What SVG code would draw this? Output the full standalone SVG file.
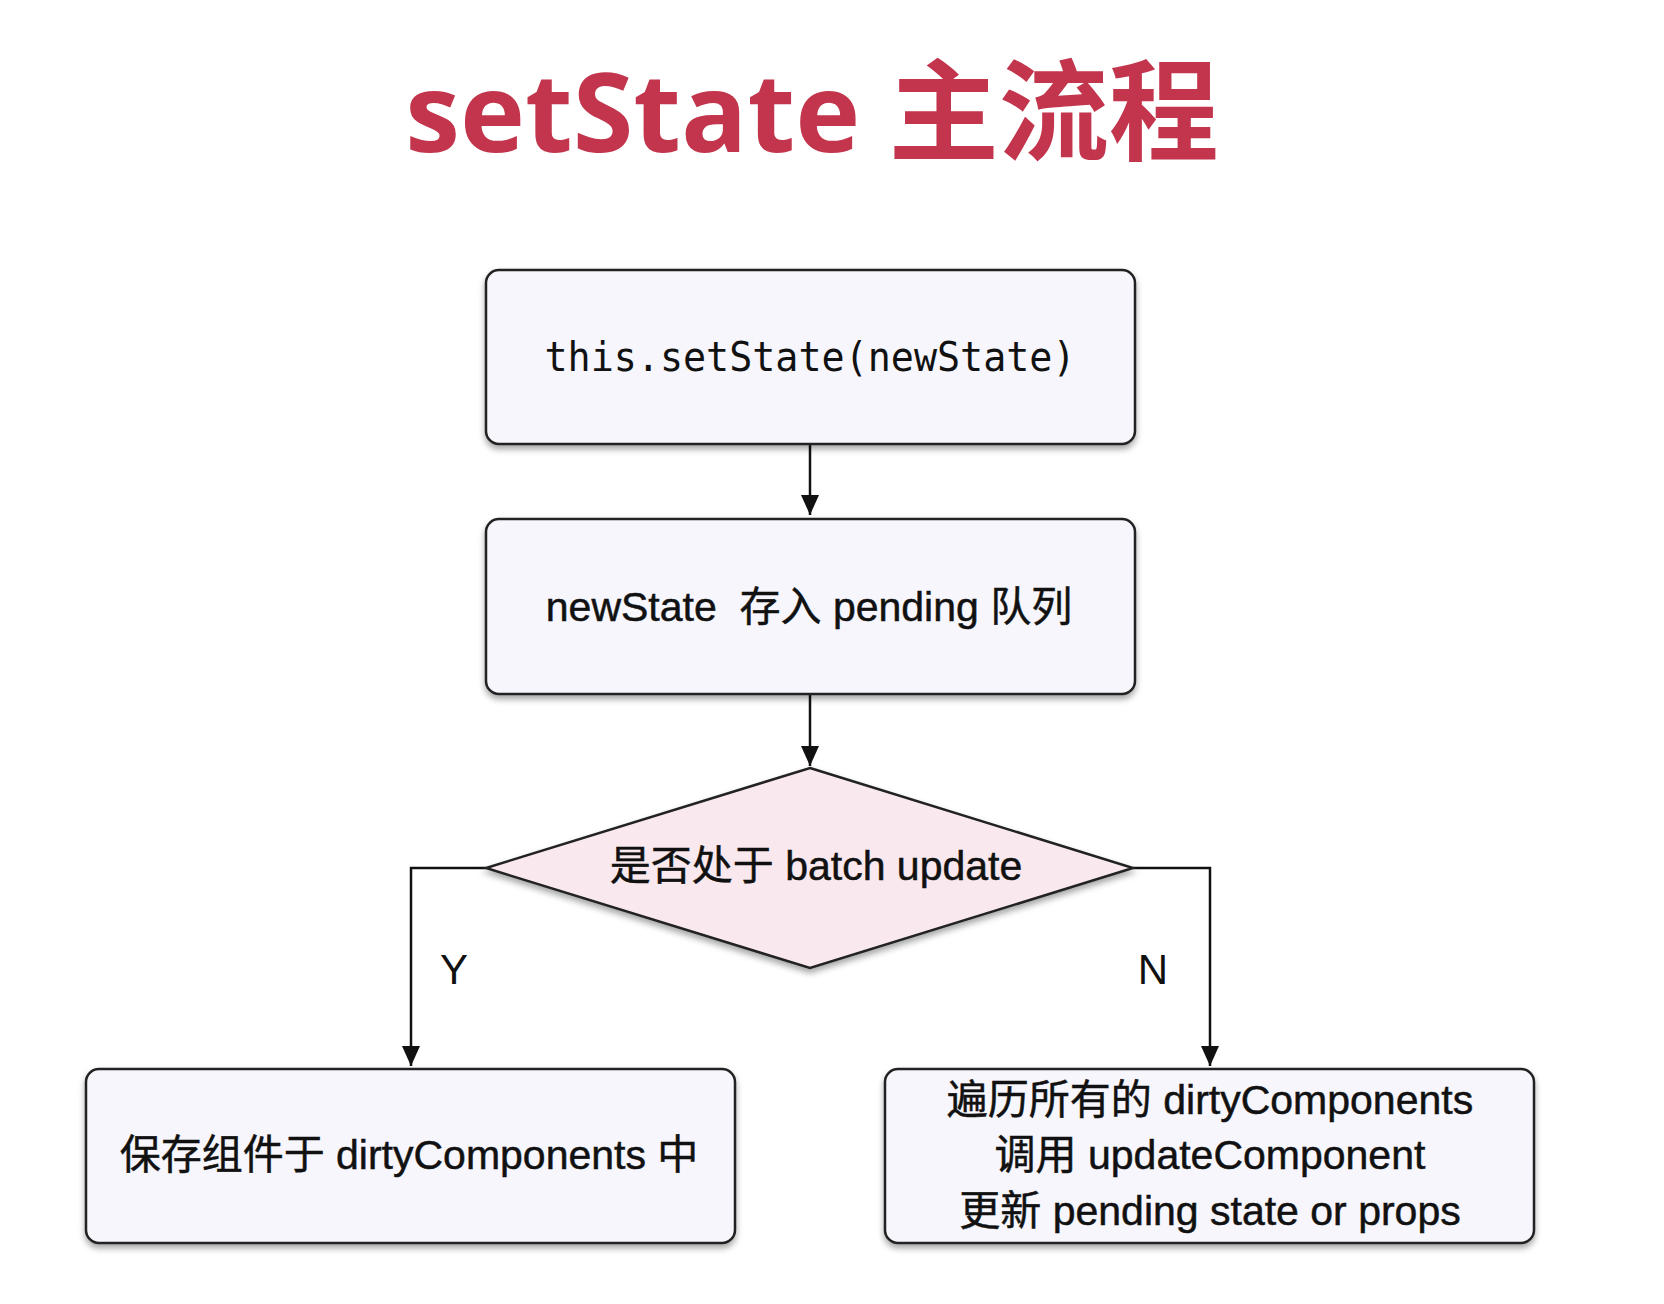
<svg xmlns="http://www.w3.org/2000/svg" width="1664" height="1304" viewBox="0 0 1664 1304">
<defs>
<filter id="sh" x="-5%" y="-10%" width="110%" height="125%">
<feDropShadow dx="0" dy="4" stdDeviation="3" flood-color="#000" flood-opacity="0.35"/>
</filter>
<marker id="arrb" viewBox="0 0 20 22" refX="20" refY="11" markerWidth="20" markerHeight="22" markerUnits="userSpaceOnUse" orient="auto">
<path d="M0,2 L20,11 L0,20 z" fill="#111"/>
</marker>
</defs>
<style>
.box{fill:#F6F6FC;stroke:#222;stroke-width:2.5;filter:url(#sh)}
.dia{fill:#F9E9EE;stroke:#222;stroke-width:2.5;filter:url(#sh)}
.t{font-family:"Liberation Sans","Noto Sans CJK SC",sans-serif;font-size:41px;fill:#111;stroke:#111;stroke-width:0.5;text-anchor:middle;dominant-baseline:central}
.mono{font-family:"DejaVu Sans Mono","Liberation Mono",monospace;font-size:40px;fill:#111;text-anchor:middle;dominant-baseline:central}
.lbl{font-family:"Liberation Sans",sans-serif;font-size:42px;fill:#111;text-anchor:middle;dominant-baseline:central}
.edge{fill:none;stroke:#111;stroke-width:2.5}
.title{font-family:"Open Sans","Noto Sans CJK SC",sans-serif;font-weight:bold;font-size:110px;fill:#C2354C;text-anchor:middle}
</style>
<rect width="1664" height="1304" fill="#FFFFFF"/>
<text class="title" x="812" y="152">setState <tspan font-family="Noto Sans CJK SC" font-weight="bold">主流程</tspan></text>

<g id="connectors">
<path class="edge" d="M810,444 L810,515" marker-end="url(#arrb)"/>
<path class="edge" d="M810,694 L810,766" marker-end="url(#arrb)"/>
<path class="edge" d="M486,868 L411,868 L411,1066" marker-end="url(#arrb)"/>
<path class="edge" d="M1133,868 L1210,868 L1210,1066" marker-end="url(#arrb)"/>
<text class="lbl" x="454" y="969">Y</text>
<text class="lbl" x="1153" y="969">N</text>
</g>

<g id="node-setstate">
<rect class="box" x="486" y="270" width="649" height="174" rx="13"/>
<text class="mono" x="810" y="357" textLength="531" lengthAdjust="spacingAndGlyphs">this.setState(newState)</text>
</g>

<g id="node-pending">
<rect class="box" x="486" y="519" width="649" height="175" rx="13"/>
<text class="t" x="809" y="607" xml:space="preserve">newState  存入 pending 队列</text>
</g>

<g id="node-batch">
<polygon class="dia" points="810,768 1133,868 810,968 486,868"/>
<text class="t" x="816" y="866">是否处于 batch update</text>
</g>

<g id="node-dirty">
<rect class="box" x="86" y="1069" width="649" height="174" rx="13"/>
<text class="t" x="409" y="1155">保存组件于 dirtyComponents 中</text>
</g>

<g id="node-update">
<rect class="box" x="885" y="1069" width="649" height="174" rx="13"/>
<text class="t" x="1210" y="1100">遍历所有的 dirtyComponents</text>
<text class="t" x="1210" y="1155">调用 updateComponent</text>
<text class="t" x="1210" y="1211">更新 pending state or props</text>
</g>
</svg>
